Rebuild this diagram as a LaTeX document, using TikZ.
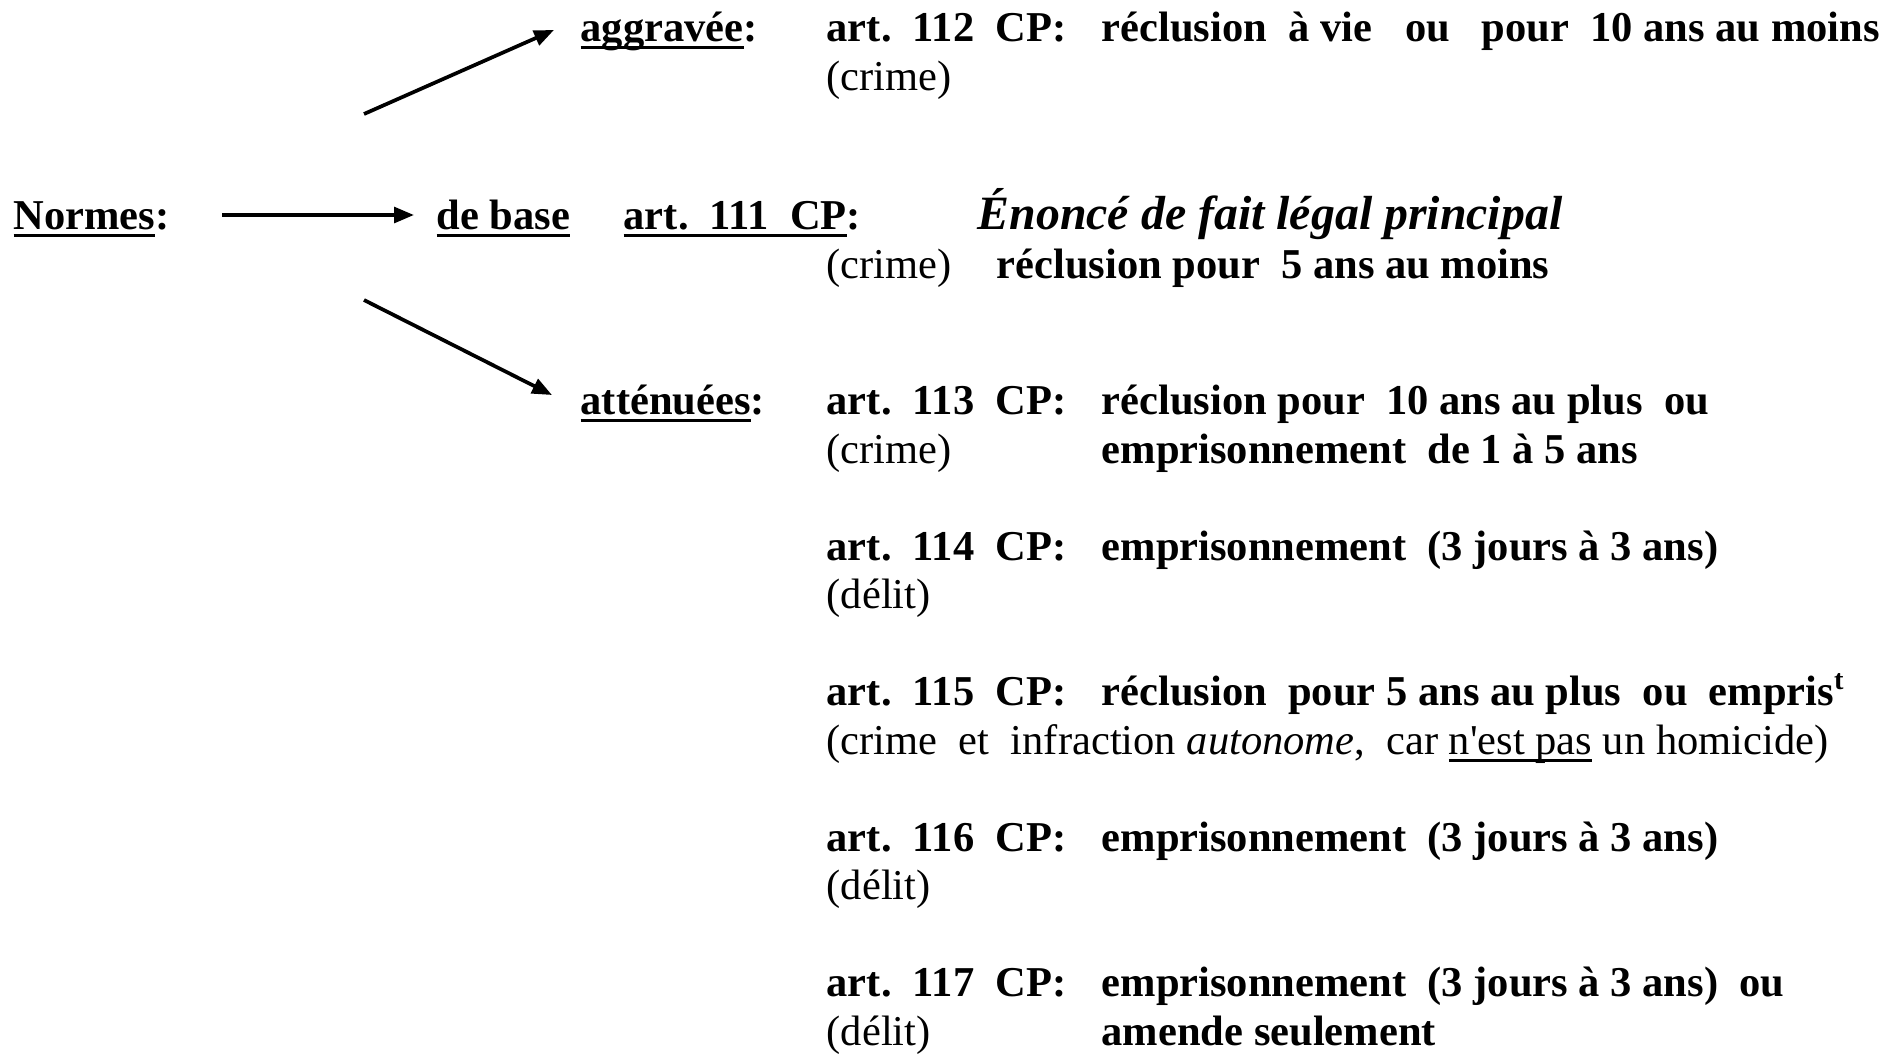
\documentclass[tikz,border=0pt]{standalone}
\usepackage{fontspec}
\setmainfont{Liberation Serif}
\usetikzlibrary{arrows.meta,calc}

\newcommand{\undl}[1]{\setbox0\hbox{#1}\rlap{\rule[-2.3pt]{\wd0}{0.9pt}}\box0\relax}

\begin{document}
\begin{tikzpicture}[scale=0.0992]
    \tikzstyle{every node}+=[inner sep=0pt, anchor=base west]
    \tikzstyle{bt}=[font=\fontsize{12}{14}\selectfont\bfseries]
    \tikzstyle{rt}=[font=\fontsize{12}{14}\selectfont]
    \tikzstyle{big}=[font=\fontsize{13.5}{16}\selectfont\bfseries\itshape]
    \tikzstyle{arr}=[-{Triangle[length=5.6pt,width=4.4pt]}, line width=1.05pt]
    \useasboundingbox (0,0) rectangle (190.4,-105.6);
    % left column
    \draw (1.3,-22.9) node [bt] (normes) {\undl{Normes}:};
    \draw (43.6,-22.9) node [bt] (base) {\undl{de base}};
    \draw (58.0,-4.1) node [bt] (aggr) {\undl{aggravée}:};
    \draw (58.0,-41.4) node [bt] (atten) {\undl{atténuées}:};
    % base norm
    \draw (62.3,-22.9) node [bt] (art111) {\undl{art.~~111~~CP}:};
    \draw (97.7,-22.9) node [big] (enonce) {Énoncé de fait légal principal};
    \draw (82.6,-27.8) node [rt] (c111) {(crime)};
    \draw (99.6,-27.8) node [bt] (r111) {réclusion pour~~5 ans au moins};
    % aggravated
    \draw (82.6,-4.1) node [bt] (art112) {art.~~112~~CP:};
    \draw (110.1,-4.1) node [bt] (r112) {réclusion~~à vie};
    \draw (140.5,-4.1) node [bt] (ou112) {ou};
    \draw (148.1,-4.1) node [bt] (p112) {pour~~10 ans au moins};
    \draw (82.6,-9.0) node [rt] (c112) {(crime)};
    % mitigated
    \draw (82.6,-41.4) node [bt] (art113) {art.~~113~~CP:};
    \draw (110.1,-41.4) node [bt] (r113) {réclusion pour~~10 ans au plus~~ou};
    \draw (82.6,-46.3) node [rt] (c113) {(crime)};
    \draw (110.1,-46.3) node [bt] (e113) {emprisonnement~~de 1 à 5 ans};
    \draw (82.6,-56.0) node [bt] (art114) {art.~~114~~CP:};
    \draw (110.1,-56.0) node [bt] (e114) {emprisonnement~~(3 jours à 3 ans)};
    \draw (82.6,-60.8) node [rt] (d114) {(délit)};
    \draw (82.6,-70.5) node [bt] (art115) {art.~~115~~CP:};
    \draw (110.1,-70.5) node [bt] (r115) {réclusion~~pour 5 ans au plus~~ou~~empris\textsuperscript{t}};
    \draw (82.6,-75.4) node [rt] (c115) {(crime~~et~~infraction \textit{autonome},~~car \undl{n\textquotesingle est pas} un homicide)};
    \draw (82.6,-85.1) node [bt] (art116) {art.~~116~~CP:};
    \draw (110.1,-85.1) node [bt] (e116) {emprisonnement~~(3 jours à 3 ans)};
    \draw (82.6,-89.9) node [rt] (d116) {(délit)};
    \draw (82.6,-99.6) node [bt] (art117) {art.~~117~~CP:};
    \draw (110.1,-99.6) node [bt] (e117) {emprisonnement~~(3 jours à 3 ans)~~ou};
    \draw (82.6,-104.5) node [rt] (d117) {(délit)};
    \draw (110.1,-104.5) node [bt] (a117) {amende seulement};
    % arrows
    \coordinate (up) at (36.4,-11.4);
    \coordinate (dn) at (36.4,-30.0);
    \draw [arr] ($(normes.base east)+(5.2,1.4)$) -- ($(base.base west)+(-2.2,1.4)$);
    \draw [arr] (up) -- ($(aggr.base west)+(-2.6,1.1)$);
    \draw [arr] (dn) -- ($(atten.base west)+(-2.8,1.9)$);
\end{tikzpicture}
\end{document}
